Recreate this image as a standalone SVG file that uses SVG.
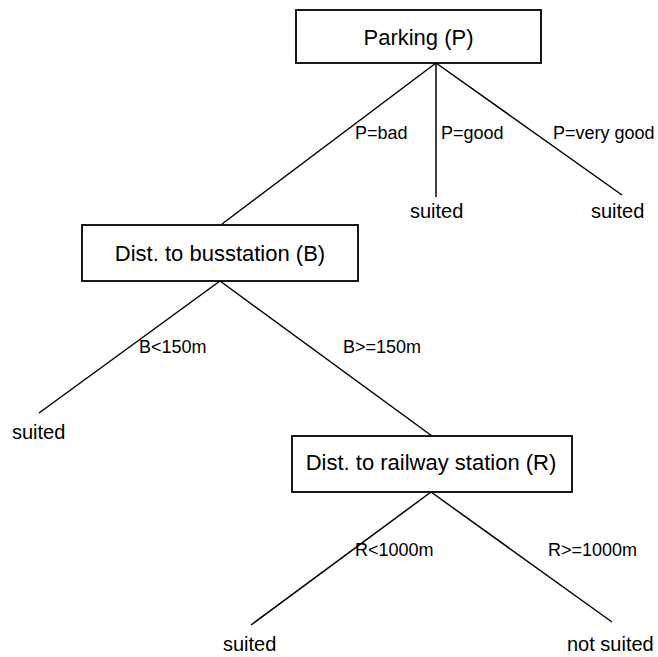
<svg xmlns="http://www.w3.org/2000/svg" width="658" height="657" viewBox="0 0 658 657">
  <style>
    .box { fill: #ffffff; stroke: #000000; stroke-width: 1.8; }
    .edge { stroke: #000000; stroke-width: 1.5; fill: none; }
    .node-label { font-family: "Liberation Sans", Arial, sans-serif; font-size: 22px; fill: #000000; text-anchor: middle; }
    .edge-label { font-family: "Liberation Sans", Arial, sans-serif; font-size: 18px; fill: #000000; }
    .leaf { font-family: "Liberation Sans", Arial, sans-serif; font-size: 20px; fill: #000000; }
  </style>
  <rect width="658" height="657" fill="#ffffff"/>

  <!-- connectors -->
  <g id="connectors">
    <line class="edge" x1="436" y1="63" x2="222" y2="224"/>
    <line class="edge" x1="436" y1="63" x2="436" y2="197"/>
    <line class="edge" x1="436" y1="63" x2="622" y2="195"/>
    <line class="edge" x1="220" y1="281" x2="39" y2="413"/>
    <line class="edge" x1="220" y1="281" x2="432" y2="436"/>
    <line class="edge" x1="431" y1="492" x2="251" y2="625"/>
    <line class="edge" x1="431" y1="492" x2="612" y2="622"/>
    <text class="edge-label" x="355" y="139">P=bad</text>
    <text class="edge-label" x="441" y="139">P=good</text>
    <text class="edge-label" x="553" y="139">P=very good</text>
    <text class="edge-label" x="139" y="353">B&lt;150m</text>
    <text class="edge-label" x="343" y="353">B&gt;=150m</text>
    <text class="edge-label" x="355" y="556">R&lt;1000m</text>
    <text class="edge-label" x="548" y="556">R&gt;=1000m</text>
  </g>

  <!-- decision nodes -->
  <g id="node-parking">
    <rect class="box" x="296" y="10" width="245" height="53"/>
    <text class="node-label" x="418.5" y="45">Parking (P)</text>
  </g>
  <g id="node-busstation">
    <rect class="box" x="82" y="225" width="276" height="56"/>
    <text class="node-label" x="220" y="261">Dist. to busstation (B)</text>
  </g>
  <g id="node-railway">
    <rect class="box" x="292" y="436" width="280" height="56"/>
    <text class="node-label" x="431" y="470">Dist. to railway station (R)</text>
  </g>

  <!-- outcome leaves -->
  <g id="leaf-good"><text class="leaf" x="410" y="218">suited</text></g>
  <g id="leaf-verygood"><text class="leaf" x="591" y="218">suited</text></g>
  <g id="leaf-bus-near"><text class="leaf" x="12" y="439">suited</text></g>
  <g id="leaf-rail-near"><text class="leaf" x="223" y="651">suited</text></g>
  <g id="leaf-rail-far"><text class="leaf" x="567" y="651">not suited</text></g>
</svg>
